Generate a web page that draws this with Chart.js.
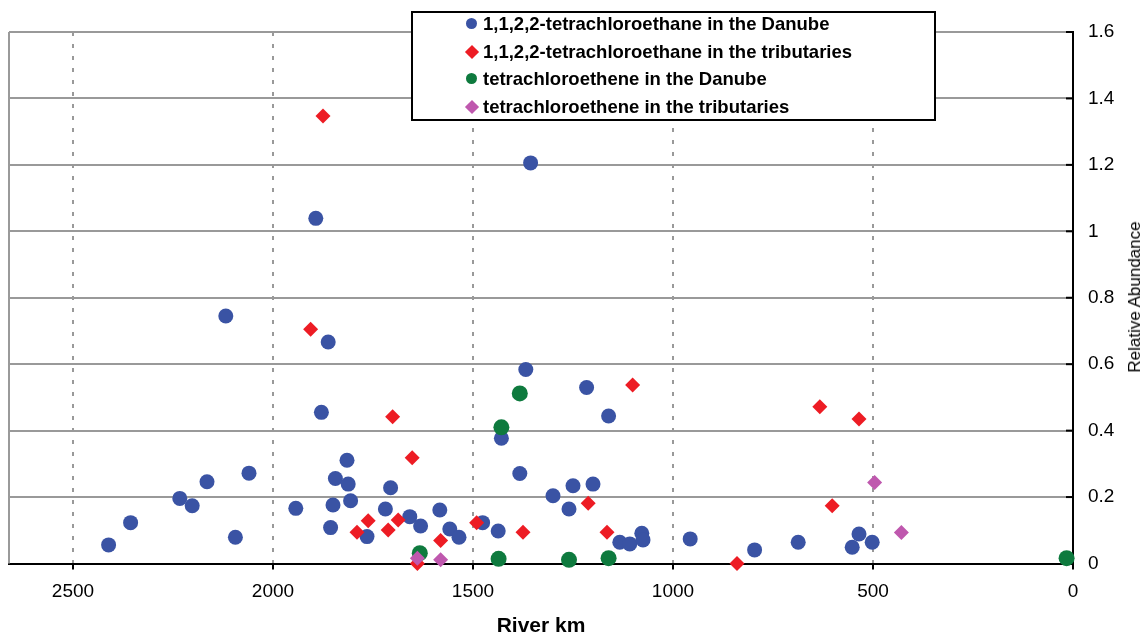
<!DOCTYPE html>
<html>
<head>
<meta charset="utf-8">
<script src="https://cdn.jsdelivr.net/npm/chart.js@4.4.1/dist/chart.umd.min.js"></script>
<style>
  html, body { margin: 0; padding: 0; background: #fff; overflow: hidden; }
  #wrap { position: relative; width: 1145px; height: 637px; }
  #legend {
    position: absolute; left: 411px; top: 11px; width: 521px; height: 106px;
    border: 2px solid #000; background: #fff;
    font: bold 18.5px "Liberation Sans", Arial, sans-serif; color: #000;
  }
  #legend .row { position: absolute; left: 70px; height: 28px; line-height: 28px; white-space: nowrap; }
  #legend .mk { position: absolute; left: -17px; top: 8px; width: 11px; height: 11px; }
  #legend .dot { border-radius: 50%; }
  #legend .dia { width: 10px; height: 10px; top: 9px; left: -16px; transform: rotate(45deg); }
  #ytitle {
    position: absolute; left: 1135px; top: 297px; white-space: nowrap;
    font: 17px "Liberation Sans", Arial, sans-serif; color: #000;
    transform: translate(-50%, -50%) rotate(-90deg);
  }
</style>
</head>
<body>
<div id="wrap">
  <canvas id="grafico" width="1145" height="637"></canvas>
  <div id="legend"></div>
  <div id="ytitle">Relative Abundance</div>
</div>
<script>
// axis ticks
const kmTicks = [2500, 2000, 1500, 1000, 500, 0];
const abundanceTicks = [0, 0.2, 0.4, 0.6, 0.8, 1, 1.2, 1.4, 1.6];

// 1,1,2,2-tetrachloroethane, Danube stations
const tcaDanubeKm = [2411, 2356, 2233, 2202, 2165, 2118, 2094, 2060, 1943, 1893, 1879, 1862, 1856, 1850,
  1844, 1815, 1812, 1806, 1765, 1719, 1706, 1658, 1631, 1583, 1558, 1535, 1476, 1437, 1429, 1383,
  1368, 1356, 1300, 1260, 1250, 1216, 1200, 1161, 1133, 1108, 1078, 1075, 957, 796, 687, 552, 535, 502];
const tcaDanubeVal = [0.056, 0.123, 0.196, 0.174, 0.246, 0.745, 0.079, 0.272, 0.166, 1.039, 0.455, 0.667, 0.108, 0.176,
  0.256, 0.311, 0.239, 0.189, 0.081, 0.164, 0.228, 0.141, 0.113, 0.161, 0.104, 0.079, 0.123, 0.098, 0.377, 0.271,
  0.584, 1.206, 0.204, 0.164, 0.234, 0.530, 0.239, 0.444, 0.064, 0.059, 0.091, 0.071, 0.074, 0.041, 0.064, 0.049, 0.089, 0.064];

// 1,1,2,2-tetrachloroethane, tributaries
const tcaTribKm = [1906, 1875, 1790, 1762, 1712, 1701, 1687, 1652, 1639, 1581, 1491, 1375, 1212, 1165, 1101, 840, 633, 602, 535];
const tcaTribVal = [0.705, 1.347, 0.094, 0.129, 0.101, 0.442, 0.131, 0.318, 0, 0.069, 0.123, 0.094, 0.181, 0.094, 0.537, 0, 0.472, 0.174, 0.435];

// tetrachloroethene, Danube stations
const pceDanubeKm = [1633, 1436, 1429, 1383, 1260, 1161, 16];
const pceDanubeVal = [0.031, 0.014, 0.41, 0.512, 0.011, 0.016, 0.016];

// tetrachloroethene, tributaries
const pceTribKm = [1639, 1581, 496, 429];
const pceTribVal = [0.016, 0.011, 0.244, 0.093];

const seriesNames = [
  '1,1,2,2-tetrachloroethane in the Danube',
  '1,1,2,2-tetrachloroethane in the tributaries',
  'tetrachloroethene in the Danube',
  'tetrachloroethene in the tributaries'
];
const seriesColors = ['#3a53a4', '#ed1c24', '#0e7a3e', '#bf58ae'];

function pts(km, val) {
  return km.map((k, i) => ({ x: k, y: val[i] }));
}

Chart.defaults.font.family = '"Liberation Sans", Arial, sans-serif';
Chart.defaults.color = '#000';

// gray left frame line + short inward ticks on the right axis
const frame = {
  id: 'frame',
  beforeDatasetsDraw(chart) {
    const { ctx, chartArea: a } = chart;
    ctx.save();
    ctx.strokeStyle = '#9a9a9a';
    ctx.lineWidth = 2;
    ctx.beginPath();
    ctx.moveTo(a.left, a.top);
    ctx.lineTo(a.left, a.bottom);
    ctx.stroke();
    const y = chart.scales.y;
    ctx.strokeStyle = '#000';
    y.ticks.forEach(t => {
      const py = y.getPixelForValue(t.value);
      ctx.beginPath();
      ctx.moveTo(a.right - 7, py);
      ctx.lineTo(a.right, py);
      ctx.stroke();
    });
    ctx.restore();
  }
};

const ctx = document.getElementById('grafico');
const myChart = new Chart(ctx, {
  type: 'scatter',
  data: {
    datasets: [
      { label: seriesNames[0], data: pts(tcaDanubeKm, tcaDanubeVal), backgroundColor: seriesColors[0],
        pointStyle: 'circle', pointRadius: 7.5, borderWidth: 0, order: 4 },
      { label: seriesNames[1], data: pts(tcaTribKm, tcaTribVal), backgroundColor: seriesColors[1],
        pointStyle: 'rectRot', pointRadius: 7.5, borderWidth: 0, order: 3 },
      { label: seriesNames[2], data: pts(pceDanubeKm, pceDanubeVal), backgroundColor: seriesColors[2],
        pointStyle: 'circle', pointRadius: 8, borderWidth: 0, order: 2 },
      { label: seriesNames[3], data: pts(pceTribKm, pceTribVal), backgroundColor: seriesColors[3],
        pointStyle: 'rectRot', pointRadius: 7.5, borderWidth: 0, order: 1 }
    ]
  },
  options: {
    responsive: false,
    animation: false,
    clip: false,
    layout: { padding: { left: 9, top: 32, right: 0, bottom: 0 } },
    plugins: { legend: { display: false }, tooltip: { enabled: false } },
    scales: {
      x: {
        type: 'linear',
        reverse: true,
        min: 0,
        max: 2660,
        afterBuildTicks: s => { s.ticks = kmTicks.map(v => ({ value: v })); },
        afterFit: s => { s.height = 73.5; },
        grid: {
          color: c => (c.tick && c.tick.value === 0 ? 'rgba(0,0,0,0)' : '#999'),
          lineWidth: 2,
          tickColor: '#000',
          tickLength: 6,
          tickWidth: 2
        },
        border: { color: '#000', width: 2, dash: [4, 8] },
        ticks: { font: { size: 19 }, padding: 11, maxRotation: 0, callback: v => String(v) },
        title: {
          display: true, text: 'River km',
          font: { size: 21, weight: 'bold', lineHeight: 1 },
          padding: 0
        }
      },
      y: {
        position: 'right',
        min: 0,
        max: 1.6,
        afterBuildTicks: s => { s.ticks = abundanceTicks.map(v => ({ value: v })); },
        afterFit: s => { s.width = 72; },
        grid: {
          color: c => (c.tick && c.tick.value === 0 ? 'rgba(0,0,0,0)' : '#999'),
          lineWidth: 2,
          drawTicks: false
        },
        border: { color: '#000', width: 2 },
        ticks: { font: { size: 19 }, padding: 15, callback: v => String(v) }
      }
    }
  },
  plugins: [frame]
});

// legend box
const legend = document.getElementById('legend');
seriesNames.forEach((name, i) => {
  const row = document.createElement('div');
  row.className = 'row';
  row.style.top = (-3 + i * 27.7) + 'px';
  const mk = document.createElement('span');
  mk.className = 'mk ' + (i % 2 === 0 ? 'dot' : 'dia');
  mk.style.background = seriesColors[i];
  row.appendChild(mk);
  row.appendChild(document.createTextNode(name));
  legend.appendChild(row);
});
</script>
</body>
</html>
